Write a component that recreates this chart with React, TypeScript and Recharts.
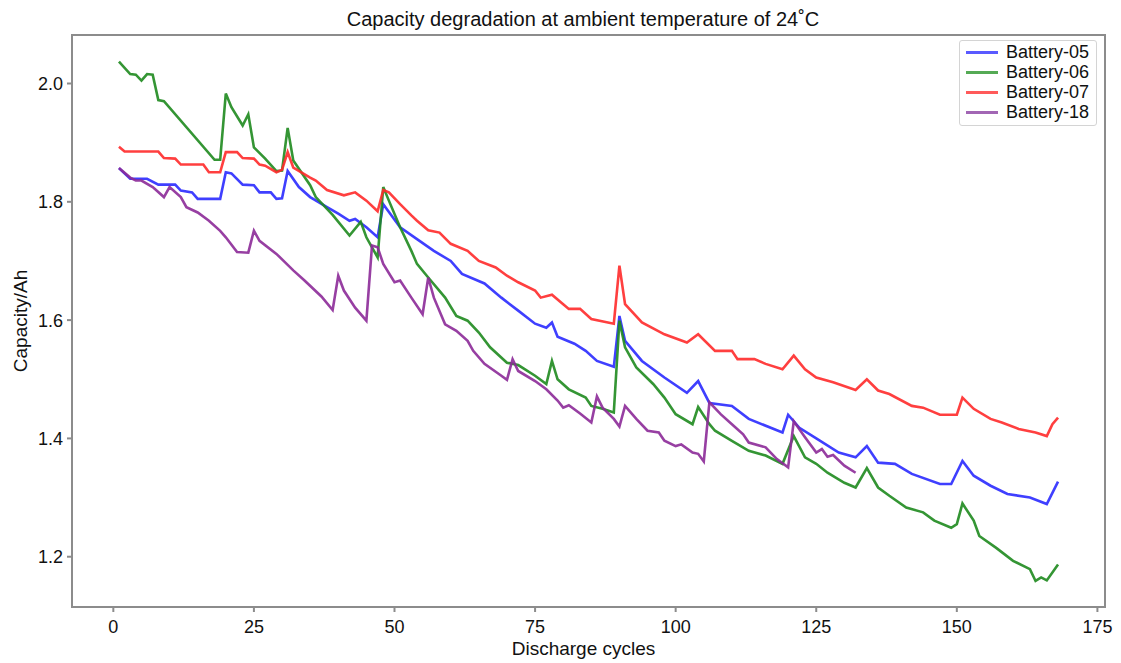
import React from 'react';
import { LineChart, Line, XAxis, YAxis, ReferenceArea } from 'recharts';

const b05Cycles = [1, 3, 6, 8, 11, 12, 14, 15, 19, 20, 21, 23, 25, 26, 28, 29, 30, 31, 33, 35, 38, 40, 42, 43, 45, 47, 48, 51, 54, 57, 60, 62, 66, 69, 72, 75, 77, 78, 79, 82, 84, 86, 89, 90, 91, 94, 98, 102, 104, 106, 110, 113, 119, 120, 122, 125, 129, 132, 134, 136, 139, 142, 147, 149, 151, 153, 156, 159, 163, 166, 168];
const b05Capacity = [1.857, 1.839, 1.839, 1.829, 1.829, 1.819, 1.816, 1.805, 1.805, 1.850, 1.848, 1.829, 1.828, 1.816, 1.816, 1.805, 1.806, 1.852, 1.825, 1.808, 1.791, 1.780, 1.768, 1.771, 1.757, 1.740, 1.796, 1.757, 1.737, 1.717, 1.700, 1.678, 1.662, 1.638, 1.616, 1.594, 1.587, 1.596, 1.572, 1.560, 1.548, 1.531, 1.521, 1.607, 1.565, 1.531, 1.503, 1.477, 1.497, 1.460, 1.455, 1.433, 1.410, 1.440, 1.418, 1.400, 1.376, 1.368, 1.387, 1.359, 1.357, 1.340, 1.323, 1.323, 1.362, 1.337, 1.320, 1.306, 1.300, 1.289, 1.327];

const b06Cycles = [1, 3, 4, 5, 6, 7, 8, 9, 18, 19, 20, 21, 23, 24, 25, 27, 29, 30, 31, 32, 35, 36, 39, 42, 44, 45, 47, 48, 49, 51, 53, 54, 56, 59, 61, 63, 65, 67, 70, 72, 75, 77, 78, 79, 81, 84, 85, 87, 89, 90, 91, 93, 96, 98, 100, 103, 104, 106, 107, 110, 113, 116, 119, 121, 123, 125, 127, 130, 132, 134, 136, 138, 141, 144, 146, 149, 150, 151, 153, 154, 157, 160, 163, 164, 165, 166, 168];
const b06Capacity = [2.037, 2.016, 2.015, 2.005, 2.016, 2.015, 1.972, 1.970, 1.871, 1.871, 1.983, 1.960, 1.929, 1.948, 1.892, 1.873, 1.852, 1.853, 1.925, 1.870, 1.828, 1.808, 1.778, 1.743, 1.766, 1.740, 1.706, 1.825, 1.802, 1.757, 1.717, 1.695, 1.672, 1.638, 1.607, 1.599, 1.579, 1.554, 1.528, 1.524, 1.506, 1.492, 1.531, 1.500, 1.483, 1.469, 1.455, 1.450, 1.444, 1.599, 1.554, 1.520, 1.492, 1.469, 1.441, 1.424, 1.453, 1.424, 1.413, 1.396, 1.379, 1.371, 1.357, 1.404, 1.368, 1.357, 1.342, 1.325, 1.317, 1.350, 1.317, 1.303, 1.283, 1.275, 1.261, 1.249, 1.255, 1.290, 1.261, 1.235, 1.215, 1.193, 1.179, 1.159, 1.165, 1.160, 1.187];

const b07Cycles = [1, 2, 8, 9, 11, 12, 16, 17, 19, 20, 22, 23, 25, 26, 27, 29, 30, 31, 32, 35, 36, 38, 41, 43, 45, 47, 48, 49, 51, 53, 54, 56, 58, 60, 63, 65, 68, 70, 72, 75, 76, 78, 80, 81, 83, 85, 89, 90, 91, 94, 98, 102, 104, 107, 110, 111, 114, 116, 119, 121, 123, 125, 128, 132, 134, 136, 138, 142, 144, 147, 150, 151, 153, 156, 158, 161, 164, 166, 167, 168];
const b07Capacity = [1.893, 1.885, 1.885, 1.874, 1.873, 1.863, 1.863, 1.850, 1.850, 1.884, 1.884, 1.874, 1.873, 1.863, 1.861, 1.850, 1.854, 1.884, 1.858, 1.841, 1.836, 1.820, 1.811, 1.816, 1.802, 1.784, 1.820, 1.816, 1.796, 1.777, 1.768, 1.752, 1.748, 1.729, 1.717, 1.700, 1.689, 1.675, 1.664, 1.650, 1.638, 1.643, 1.627, 1.619, 1.619, 1.602, 1.594, 1.692, 1.627, 1.596, 1.576, 1.562, 1.576, 1.548, 1.548, 1.534, 1.534, 1.526, 1.517, 1.540, 1.517, 1.503, 1.495, 1.482, 1.500, 1.481, 1.475, 1.455, 1.452, 1.440, 1.440, 1.469, 1.450, 1.433, 1.427, 1.416, 1.410, 1.404, 1.424, 1.435];

const b18Cycles = [1, 3, 4, 5, 7, 9, 10, 12, 13, 15, 17, 19, 20, 22, 24, 25, 26, 29, 32, 34, 37, 39, 40, 41, 43, 45, 46, 47, 48, 50, 51, 53, 55, 56, 57, 59, 61, 63, 64, 66, 69, 70, 71, 72, 75, 77, 79, 80, 81, 83, 85, 86, 87, 89, 90, 91, 93, 95, 97, 98, 100, 101, 103, 104, 105, 106, 108, 110, 112, 113, 116, 118, 120, 121, 123, 125, 126, 127, 128, 130, 132];
const b18Capacity = [1.857, 1.841, 1.836, 1.836, 1.825, 1.808, 1.825, 1.808, 1.791, 1.782, 1.768, 1.751, 1.740, 1.715, 1.714, 1.751, 1.734, 1.712, 1.684, 1.667, 1.640, 1.617, 1.675, 1.650, 1.621, 1.599, 1.726, 1.723, 1.695, 1.664, 1.667, 1.638, 1.610, 1.672, 1.638, 1.593, 1.582, 1.565, 1.548, 1.526, 1.506, 1.499, 1.534, 1.514, 1.497, 1.483, 1.464, 1.452, 1.456, 1.442, 1.427, 1.471, 1.452, 1.433, 1.420, 1.455, 1.433, 1.413, 1.410, 1.396, 1.387, 1.390, 1.376, 1.374, 1.361, 1.461, 1.441, 1.424, 1.407, 1.393, 1.385, 1.365, 1.351, 1.429, 1.402, 1.376, 1.382, 1.369, 1.372, 1.354, 1.342];

const xTicks = [0, 25, 50, 75, 100, 125, 150, 175];
const yTicks = [1.2, 1.4, 1.6, 1.8, 2.0];

const seriesNames = ['Battery-05', 'Battery-06', 'Battery-07', 'Battery-18'];
const seriesColors = ['#2a2aff', '#1e8a1e', '#ff2a2a', '#8c2a98'];
const legendColors = ['#5a5aff', '#55aa55', '#ff5a5a', '#a266b4'];

const titleText = 'Capacity degradation at ambient temperature of 24˚C';
const xLabel = 'Discharge cycles';
const yLabel = 'Capacity/Ah';

const X_DOMAIN: [number, number] = [-7.35, 176.35];
const Y_DOMAIN: [number, number] = [1.115, 2.082];

const zip = (c: number[], v: number[]) => c.map((x, i) => ({ cycle: x, capacity: v[i] }));

const seriesData = [
  zip(b05Cycles, b05Capacity),
  zip(b06Cycles, b06Capacity),
  zip(b07Cycles, b07Capacity),
  zip(b18Cycles, b18Capacity),
];

const FONT = '"Liberation Sans", Arial, sans-serif';
const FRAME = '#8c8c8c';

export default function App() {
  return (
    <div style={{ position: 'absolute', left: 0, top: 0, width: 1121, height: 663, background: '#fff', fontFamily: FONT }}>
      <div
        style={{
          position: 'absolute',
          left: 283,
          top: 7,
          width: 600,
          textAlign: 'center',
          fontSize: 20,
          lineHeight: '24px',
          color: '#111',
        }}
      >
        {titleText}
      </div>
      <LineChart width={1121} height={663} margin={{ top: 35, right: 16, bottom: 0, left: 0 }} style={{ fontFamily: FONT }}>
        <XAxis
          dataKey="cycle"
          type="number"
          domain={X_DOMAIN}
          ticks={xTicks}
          allowDataOverflow
          height={56}
          axisLine={false}
          stroke={FRAME}
          tickLine={{ stroke: FRAME, strokeWidth: 2 }}
          tickSize={5}
          tickMargin={8}
          tick={{ fill: '#111', fontSize: 18 }}
          label={{ value: xLabel, position: 'insideBottom', offset: 8, dx: -5, fill: '#111', fontSize: 19 }}
        />
        <YAxis
          type="number"
          domain={Y_DOMAIN}
          ticks={yTicks}
          allowDataOverflow
          width={72}
          axisLine={false}
          stroke={FRAME}
          tickLine={{ stroke: FRAME, strokeWidth: 2 }}
          tickSize={5}
          tickMargin={4}
          tickFormatter={(v: number) => v.toFixed(1)}
          tick={{ fill: '#111', fontSize: 18 }}
          label={{ value: yLabel, angle: -90, position: 'insideLeft', offset: 20, fill: '#111', fontSize: 19, style: { textAnchor: 'middle' } }}
        />
        <ReferenceArea
          x1={X_DOMAIN[0]}
          x2={X_DOMAIN[1]}
          y1={Y_DOMAIN[0]}
          y2={Y_DOMAIN[1]}
          fill="none"
          stroke={FRAME}
          strokeWidth={2}
          ifOverflow="visible"
        />
        {seriesData.map((d, i) => (
          <Line
            key={seriesNames[i]}
            data={d}
            dataKey="capacity"
            name={seriesNames[i]}
            type="linear"
            stroke={seriesColors[i]}
            strokeWidth={2.6}
            strokeOpacity={0.9}
            dot={false}
            activeDot={false}
            isAnimationActive={false}
          />
        ))}
      </LineChart>
      <div
        style={{
          position: 'absolute',
          left: 959,
          top: 40,
          border: '1px solid #d4d4d4',
          borderRadius: 3,
          background: '#fff',
          padding: '1px 6px 3px 6px',
          width: 124,
        }}
      >
        {seriesNames.map((n, i) => (
          <div key={n} style={{ display: 'flex', alignItems: 'center', height: 20 }}>
            <span style={{ display: 'inline-block', width: 32, height: 3, background: legendColors[i], marginRight: 8 }} />
            <span style={{ fontSize: 18, color: '#111', lineHeight: '20px' }}>{n}</span>
          </div>
        ))}
      </div>
    </div>
  );
}
